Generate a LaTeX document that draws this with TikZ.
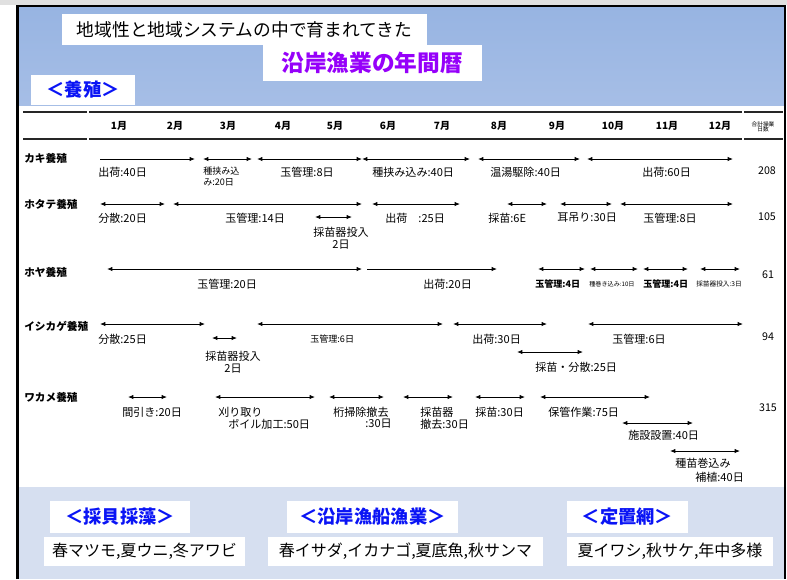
\documentclass[tikz,border=0pt]{standalone}
\usepackage{fontspec}
\setmainfont{Noto Sans CJK JP}
\usetikzlibrary{arrows.meta}
\definecolor{hdrtop}{RGB}{151,180,226}
\definecolor{hdrbot}{RGB}{166,190,230}
\definecolor{lowbg}{RGB}{214,223,240}
\definecolor{titlepurple}{RGB}{150,0,250}
\definecolor{kwblue}{RGB}{10,20,245}
\newcommand\garr[5]{\coordinate (#1a) at (#3,#5); \coordinate (#1b) at (#4,#5); \draw[#2] (#1a) -- (#1b);}
\newcommand\fs[1]{\fontsize{#1}{#1}\selectfont}
\tikzset{
  dbl/.style={line width=0.6pt,{Latex[length=4pt,width=3.2pt]}-{Latex[length=4pt,width=3.2pt]}},
  sgl/.style={line width=0.6pt,-{Latex[length=4pt,width=3.2pt]}},
  lab/.style={anchor=west,inner sep=0pt,font=\fs{8.3}},
  rowlab/.style={anchor=west,inner sep=0pt,font=\fs{8}\bfseries},
  mon/.style={inner sep=0pt,font=\fs{7.5}\bfseries},
  tot/.style={inner sep=0pt,font=\fs{8}},
  wbox/.style={fill=white,draw=none},
  rule/.style={line width=0.9pt,draw=black!85}
}
\begin{document}
\begin{tikzpicture}[x=0.75pt,y=-0.75pt]
\useasboundingbox (0,0) rectangle (787,579);
% background strips
\fill[black!12] (0,0) rectangle (787,5);
\shade[top color=hdrtop,bottom color=hdrbot] (18,6) rectangle (784,105);
\fill[lowbg] (18,487) rectangle (784,579);
% frame
\draw[line width=2.2pt] (17.5,579) -- (17.5,6) -- (785,6) -- (785,579);
% header boxes
\fill[wbox] (62,14) rectangle (427,45);
\node[inner sep=0pt,font=\fs{13.3}] (hdr) at (244.5,30) {地域性と地域システムの中で育まれてきた};
\fill[wbox] (263,45) rectangle (482,81);
\node[inner sep=0pt,font=\fs{17}\bfseries,text=titlepurple] (ttl) at (372,63) {沿岸漁業の年間暦};
\fill[wbox] (31,75) rectangle (135,105);
\node[inner sep=0pt,font=\fs{13.7}\bfseries,text=kwblue] (yos) at (83,90) {＜養殖＞};
% table rules
\foreach \yy in {112,139}{
  \draw[rule] (23,\yy) -- (87,\yy);
  \draw[rule] (89,\yy) -- (742,\yy);
  \draw[rule] (744,\yy) -- (783,\yy);
}
% months
\foreach \xx/\mm in {119/1,175/2,228/3,283/4,335/5,388/6,442/7,499/8,557/9,613/10,667/11,720/12}{
  \node[mon] (m\mm) at (\xx,126) {\mm 月};
}
\node[inner sep=0pt,font=\fs{4.3},align=center] (sum) at (763,127) {合計操業\\[-0.5pt]日数};
% ===== カキ養殖 =====
\node[rowlab] (r1) at (24,158) {カキ養殖};
\garr{k1}{sgl}{100}{195}{159}
\garr{k2}{dbl}{203}{252}{159}
\garr{k3}{dbl}{257}{362}{159}
\garr{k4}{dbl}{362}{470}{159}
\garr{k5}{dbl}{478}{580}{159}
\garr{k6}{dbl}{587}{733}{159}
\node[lab] (k1t) at (98,172) {出荷:40日};
\node[anchor=north west,inner sep=0pt,font=\fs{6.8},align=left] (k2t) at (203,167) {種挟み込\\[1pt]み:20日};
\node[lab] (k3t) at (280,172) {玉管理:8日};
\node[lab] (k4t) at (372,172) {種挟み込み:40日};
\node[lab] (k5t) at (490,172) {温湯駆除:40日};
\node[lab] (k6t) at (642,172) {出荷:60日};
\node[tot] (k7t) at (767,171) {208};
% ===== ホタテ養殖 =====
\node[rowlab] (r2) at (24,204) {ホタテ養殖};
\garr{h1}{dbl}{100}{165}{204}
\garr{h2}{dbl}{173}{362}{204}
\garr{h3}{dbl}{315}{352}{217}
\garr{h4}{dbl}{372}{460}{204}
\garr{h5}{dbl}{507}{547}{204}
\garr{h6}{dbl}{560}{612}{204}
\garr{h7}{dbl}{620}{733}{204}
\node[lab] (h1t) at (98,218) {分散:20日};
\node[lab] (h2t) at (225,218) {玉管理:14日};
\node[inner sep=0pt,font=\fs{8.3},align=center] (h3t) at (341,238) {採苗器投入\\[1pt]2日};
\node[lab] (h4t) at (385,218) {出荷　:25日};
\node[lab] (h5t) at (488,218) {採苗:6E};
\node[lab] (h6t) at (557,218) {耳吊り:30日};
\node[lab] (h7t) at (643,218) {玉管理:8日};
\node[tot] (h8t) at (767,217) {105};
% ===== ホヤ養殖 =====
\node[rowlab] (r3) at (24,272) {ホヤ養殖};
\garr{y1}{dbl}{107}{362}{269}
\garr{y2}{sgl}{367}{497}{269}
\garr{y3}{dbl}{538}{585}{269}
\garr{y4}{dbl}{590}{638}{269}
\garr{y5}{dbl}{643}{688}{269}
\garr{y6}{dbl}{700}{740}{269}
\node[lab] (y1t) at (197,284) {玉管理:20日};
\node[lab] (y2t) at (423,284) {出荷:20日};
\node[lab,font=\fs{6.8}\bfseries] (y3t) at (535,284) {玉管理:4日};
\node[lab,font=\fs{4.6}] (y4t) at (589,284) {種巻き込み:10日};
\node[lab,font=\fs{6.8}\bfseries] (y5t) at (643,284) {玉管理:4日};
\node[lab,font=\fs{5}] (y6t) at (696,284) {採苗器投入:3日};
\node[tot] (y7t) at (768,275) {61};
% ===== イシカゲ養殖 =====
\node[rowlab] (r4) at (24,326) {イシカゲ養殖};
\garr{i1}{dbl}{100}{205}{324}
\garr{i2}{dbl}{212}{237}{338}
\garr{i3}{dbl}{257}{443}{324}
\garr{i4}{dbl}{453}{547}{324}
\garr{i5}{dbl}{517}{583}{352}
\garr{i6}{dbl}{588}{743}{324}
\node[lab] (i1t) at (98,339) {分散:25日};
\node[inner sep=0pt,font=\fs{8.3},align=center] (i2t) at (233,362.5) {採苗器投入\\[1pt]2日};
\node[lab,font=\fs{6.8}] (i3t) at (310,339) {玉管理:6日};
\node[lab] (i4t) at (472,339) {出荷:30日};
\node[lab] (i5t) at (535,367) {採苗・分散:25日};
\node[lab] (i6t) at (612,339) {玉管理:6日};
\node[tot] (i7t) at (768,337) {94};
% ===== ワカメ養殖 =====
\node[rowlab] (r5) at (24,397) {ワカメ養殖};
\garr{w1}{dbl}{128}{167}{397}
\garr{w2}{dbl}{215}{315}{397}
\garr{w3}{dbl}{329}{384}{397}
\garr{w4}{dbl}{403}{453}{397}
\garr{w5}{dbl}{475}{525}{397}
\garr{w6}{dbl}{540}{650}{397}
\garr{w7}{dbl}{622}{693}{423}
\garr{w8}{dbl}{670}{740}{451}
\node[lab] (w1t) at (122,412) {間引き:20日};
\node[lab] (w2t) at (218,412) {刈り取り};
\node[lab] (w2u) at (228,424) {ボイル加工:50日};
\node[lab] (w3t) at (333,412) {桁掃除撤去};
\node[anchor=east,inner sep=0pt,font=\fs{8.3}] (w3u) at (392,424) {:30日};
\node[lab] (w4t) at (420,412) {採苗器};
\node[lab] (w4u) at (420,424) {撤去:30日};
\node[lab] (w5t) at (475,412) {採苗:30日};
\node[lab] (w6t) at (548,412) {保管作業:75日};
\node[lab] (w7t) at (628,435) {施設設置:40日};
\node[lab] (w8t) at (675,463) {種苗巻込み};
\node[lab] (w8u) at (695,477) {補植:40日};
\node[tot] (w9t) at (768,408) {315};
% ===== bottom panels =====
\fill[wbox] (50,501) rectangle (190,533);
\node[inner sep=0pt,font=\fs{13.7}\bfseries,text=kwblue] (b1) at (120,517) {＜採貝採藻＞};
\fill[wbox] (44,537) rectangle (245,566);
\node[inner sep=0pt,font=\fs{12}] (b1t) at (144.5,551.5) {春マツモ,夏ウニ,冬アワビ};
\fill[wbox] (287,501) rectangle (458,533);
\node[inner sep=0pt,font=\fs{13.7}\bfseries,text=kwblue] (b2) at (372.5,517) {＜沿岸漁船漁業＞};
\fill[wbox] (268,537) rectangle (543,566);
\node[inner sep=0pt,font=\fs{12}] (b2t) at (405.5,551.5) {春イサダ,イカナゴ,夏底魚,秋サンマ};
\fill[wbox] (567,501) rectangle (688,533);
\node[inner sep=0pt,font=\fs{13.7}\bfseries,text=kwblue] (b3) at (627.5,517) {＜定置網＞};
\fill[wbox] (567,537) rectangle (773,566);
\node[inner sep=0pt,font=\fs{12}] (b3t) at (670,551.5) {夏イワシ,秋サケ,年中多様};
\end{tikzpicture}
\end{document}
